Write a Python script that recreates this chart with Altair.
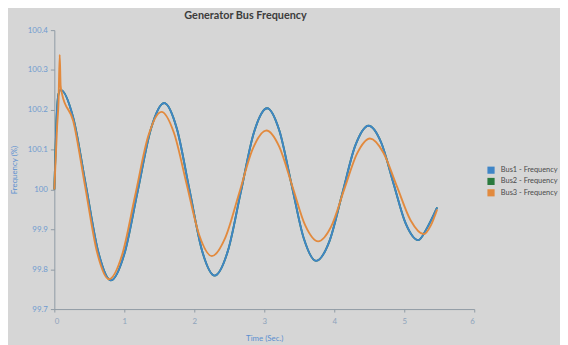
import altair as alt
import pandas as pd

series_names = ["Bus1 - Frequency", "Bus2 - Frequency", "Bus3 - Frequency"]
series_colors = ["#3f85c7", "#2a7a3e", "#e28a3e"]

t_bus1 = [0.0, 0.03, 0.06, 0.09, 0.27, 0.45, 0.63, 0.81, 1.00, 1.19, 1.38, 1.57,
          1.75, 1.93, 2.11, 2.29, 2.48, 2.665, 2.85, 3.04, 3.215, 3.39, 3.565, 3.74,
          3.93, 4.115, 4.30, 4.49, 4.67, 4.845, 5.02, 5.20, 5.33, 5.47]
v_bus1 = [100.0, 100.17, 100.24, 100.25, 100.18, 100.011, 99.842, 99.772, 99.838,
          99.995, 100.152, 100.217, 100.153, 100.0, 99.847, 99.784, 99.846, 99.994,
          100.142, 100.204, 100.148, 100.012, 99.877, 99.821, 99.87, 99.99, 100.11,
          100.16, 100.118, 100.016, 99.915, 99.873, 99.905, 99.955]

# Bus2 lies under Bus1 in the picture
t_bus2 = list(t_bus1)
v_bus2 = list(v_bus1)

t_bus3 = [0.0, 0.04, 0.06, 0.077, 0.09, 0.11, 0.27, 0.44, 0.61, 0.78, 0.97, 1.155,
          1.34, 1.53, 1.71, 1.89, 2.07, 2.25, 2.445, 2.64, 2.835, 3.03, 3.215, 3.40,
          3.585, 3.77, 3.955, 4.14, 4.325, 4.51, 4.70, 4.895, 5.09, 5.28, 5.38, 5.47]
v_bus3 = [100.0, 100.16, 100.22, 100.338, 100.26, 100.24, 100.172, 100.008, 99.843,
          99.775, 99.837, 99.985, 100.133, 100.195, 100.142, 100.014, 99.886, 99.833,
          99.88, 99.99, 100.102, 100.148, 100.107, 100.009, 99.91, 99.87, 99.907,
          99.999, 100.09, 100.128, 100.093, 100.008, 99.923, 99.888, 99.91, 99.95]

y_ticks = [99.7, 99.8, 99.9, 100.0, 100.1, 100.2, 100.3, 100.4]
x_ticks = [0, 1, 2, 3, 4, 5, 6]

def frame(ts, vs, name):
    return pd.DataFrame({"t": ts, "v": vs, "series": name})

df1 = frame(t_bus1, v_bus1, series_names[0])
df2 = frame(t_bus2, v_bus2, series_names[1])
df3 = frame(t_bus3, v_bus3, series_names[2])
df_all = pd.concat([df1, df2, df3], ignore_index=True)

axis_col = "#8f9aa5"
lab_col = "#6f9bd0"

x_enc = alt.X("t:Q", scale=alt.Scale(domain=[0, 6], nice=False),
              axis=alt.Axis(values=x_ticks, title="Time (Sec.)", grid=False,
                            domainColor=axis_col, tickColor=axis_col, tickSize=3,
                            labelColor="#8ea3bb", labelFontSize=8, labelFont="Lato",
                            titleColor="#5a8fd0", titleFontSize=8, titleFont="Lato",
                            titleFontWeight="normal", titlePadding=9, labelPadding=6))
y_enc = alt.Y("v:Q", scale=alt.Scale(domain=[99.7, 100.4], nice=False, zero=False),
              axis=alt.Axis(values=y_ticks, format=".1~f", title="Frequency (%)", grid=False,
                            domainColor=axis_col, tickColor=axis_col, tickSize=4,
                            labelColor=lab_col, labelFontSize=8, labelFont="Lato",
                            titleColor="#5a8fd0", titleFontSize=8, titleFont="Lato",
                            titleFontWeight="normal", titlePadding=9, labelPadding=3))
color_enc = alt.Color("series:N",
                      scale=alt.Scale(domain=series_names, range=series_colors),
                      legend=alt.Legend(title=None, orient="none", legendX=439, legendY=138,
                                        symbolType="square", symbolSize=34,
                                        labelFontSize=7.5, labelFont="Lato", labelColor="#4a4a4a",
                                        labelOffset=6, rowPadding=3.5, clipHeight=8,
                                        padding=0, labelLimit=200))

# invisible filled squares so that the legend shows filled swatches
legend_layer = alt.Chart(df_all).mark_square(size=0, filled=True, opacity=1).encode(
    x=x_enc, y=y_enc, color=color_enc)

def layer(df):
    return alt.Chart(df).mark_line(interpolate="monotone", strokeWidth=1.9).encode(
        x=x_enc, y=y_enc, color=color_enc)

chart = alt.layer(legend_layer, layer(df2), layer(df1), layer(df3)).properties(
    width=426, height=283,
    title=alt.TitleParams("Generator Bus Frequency", fontSize=11, fontWeight="bold",
                          color="#3c3c3c", font="Lato", offset=5, dx=-19),
    autosize=alt.AutoSizeParams(type="none"),
    padding={"left": 47, "top": 20, "right": 87, "bottom": 34},
    background="#d6d6d6",
).configure_view(stroke=None)

chart.save("out.html", embed_options={"renderer": "svg", "actions": False})
